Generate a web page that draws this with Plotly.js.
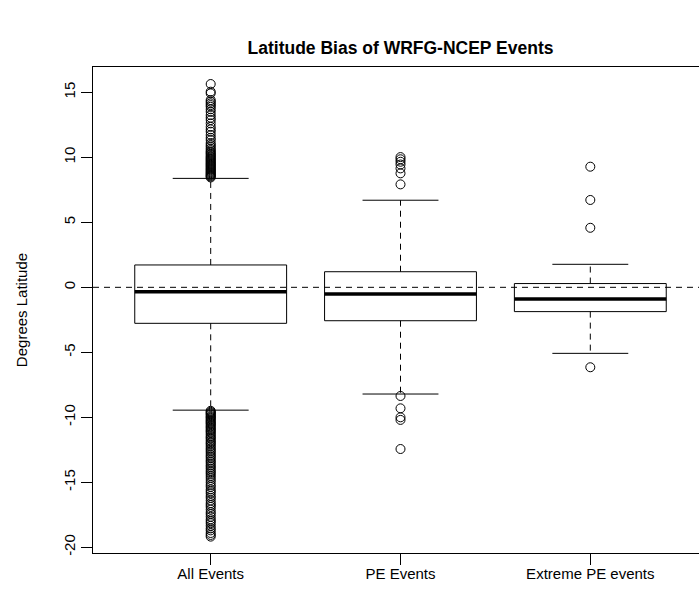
<!DOCTYPE html>
<html>
<head>
<meta charset="utf-8">
<script src="https://cdn.plot.ly/plotly-3.0.1.min.js"></script>
<style>
html, body { margin: 0; padding: 0; overflow: hidden; background: #fff; }
#chart { width: 720px; height: 594px; }
</style>
</head>
<body>
<div id="chart"></div>
<script>
// Categories and box statistics
const categories = ["All Events", "PE Events", "Extreme PE events"];
const lowerWhisker = [-9.45, -8.21, -5.08];
const q1Values = [-2.77, -2.57, -1.87];
const medianValues = [-0.34, -0.52, -0.90];
const q3Values = [1.72, 1.20, 0.29];
const upperWhisker = [8.38, 6.70, 1.77];

// Outliers per category
const outliersAll = [
  8.45, 8.52, 8.58, 8.64, 8.71, 8.78, 8.85, 8.92, 9.0, 9.07, 9.14, 9.22, 9.3, 9.37, 9.45,
  9.52, 9.6, 9.68, 9.76, 9.84, 9.92, 10.0, 10.09, 10.18, 10.27, 10.36, 10.45, 10.56, 10.68, 10.82,
  10.95, 11.1, 11.33, 11.5, 11.72, 11.97, 12.15, 12.35, 12.61, 12.87, 13.05, 13.25, 13.5, 13.7,
  13.89, 14.02, 14.15, 14.28, 14.41, 14.92, 15.05, 15.64,
  -9.5, -9.58, -9.65, -9.72, -9.8, -9.9, -9.98, -10.05, -10.15, -10.25, -10.33, -10.42, -10.5,
  -10.6, -10.7, -10.8, -10.9, -11.0, -11.1, -11.2, -11.32, -11.45, -11.55, -11.65, -11.78, -11.9,
  -12.0, -12.12, -12.25, -12.38, -12.5, -12.62, -12.75, -12.9, -13.02, -13.15, -13.3, -13.42,
  -13.55, -13.7, -13.82, -13.95, -14.1, -14.22, -14.35, -14.5, -14.65, -14.82, -15.0, -15.2,
  -15.35, -15.55, -15.7, -15.85, -16.05, -16.2, -16.4, -16.6, -16.75, -16.9, -17.1, -17.3,
  -17.45, -17.65, -17.85, -18.0, -18.15, -18.35, -18.55, -18.7, -18.9, -19.05, -19.18
];
const outliersPE = [7.92, 8.77, 9.15, 9.45, 9.66, 9.85, 10.02, -8.36, -9.31, -10.0, -10.2, -12.44];
const outliersExtreme = [4.58, 6.72, 9.28, -6.15];
const outlierSets = [outliersAll, outliersPE, outliersExtreme];

const yTickVals = [-20, -15, -10, -5, 0, 5, 10, 15];

// Styling constants
const halfBox = 0.4;
const halfStaple = 0.2;
const black = "#000000";
const font = "Liberation Sans, Arial, Helvetica, sans-serif";

const traces = [];
categories.forEach((cat, i) => {
  const c = i + 1;
  traces.push({
    type: "scatter", mode: "lines", hoverinfo: "skip", showlegend: false,
    x: [c - halfBox, c + halfBox, c + halfBox, c - halfBox, c - halfBox],
    y: [q1Values[i], q1Values[i], q3Values[i], q3Values[i], q1Values[i]],
    line: { color: black, width: 1 }
  });
  traces.push({
    type: "scatter", mode: "lines", hoverinfo: "skip", showlegend: false,
    x: [c, c, null, c, c],
    y: [q3Values[i], upperWhisker[i], null, q1Values[i], lowerWhisker[i]],
    line: { color: black, width: 1, dash: "6px,5px" }
  });
  traces.push({
    type: "scatter", mode: "lines", hoverinfo: "skip", showlegend: false,
    x: [c - halfStaple, c + halfStaple, null, c - halfStaple, c + halfStaple],
    y: [upperWhisker[i], upperWhisker[i], null, lowerWhisker[i], lowerWhisker[i]],
    line: { color: black, width: 1 }
  });
  traces.push({
    type: "scatter", mode: "lines", hoverinfo: "skip", showlegend: false,
    x: [c - halfBox, c + halfBox],
    y: [medianValues[i], medianValues[i]],
    line: { color: black, width: 3.5 }
  });
  traces.push({
    type: "scatter", mode: "markers", hoverinfo: "skip", showlegend: false,
    x: outlierSets[i].map(() => c),
    y: outlierSets[i],
    marker: { symbol: "circle-open", size: 9, color: black, line: { width: 1, color: black } }
  });
});

const layout = {
  width: 720, height: 594,
  margin: { l: 93, r: 12, t: 67, b: 41, pad: 0 },
  paper_bgcolor: "#ffffff", plot_bgcolor: "#ffffff",
  font: { family: font, size: 15, color: black },
  title: {
    text: "<b>Latitude Bias of WRFG-NCEP Events</b>",
    font: { family: font, size: 17.5, color: black },
    x: 0.5, xref: "paper", xanchor: "center",
    y: 0.919, yref: "container", yanchor: "middle"
  },
  xaxis: {
    range: [0.38, 3.62], tickvals: [1, 2, 3], ticktext: categories,
    ticks: "outside", ticklen: 11, tickwidth: 1, tickcolor: black,
    ticklabelstandoff: -4,
    showline: true, mirror: true, linecolor: black, linewidth: 1,
    showgrid: false, zeroline: false,
    tickfont: { family: font, size: 15, color: black }
  },
  yaxis: {
    range: [-20.44, 16.95], tickvals: yTickVals, ticktext: yTickVals.map(String),
    tickangle: -90,
    ticks: "outside", ticklen: 11, tickwidth: 1, tickcolor: black,
    showline: true, mirror: true, linecolor: black, linewidth: 1,
    showgrid: false, zeroline: false,
    tickfont: { family: font, size: 15, color: black },
    title: { text: "Degrees Latitude", font: { family: font, size: 15, color: black }, standoff: 29 }
  },
  shapes: [{
    type: "line", xref: "paper", x0: 0, x1: 1, yref: "y", y0: 0, y1: 0,
    line: { color: black, width: 1, dash: "6px,5px" }, layer: "above"
  }]
};

Plotly.newPlot("chart", traces, layout, { staticPlot: true, displayModeBar: false });
</script>
</body>
</html>
